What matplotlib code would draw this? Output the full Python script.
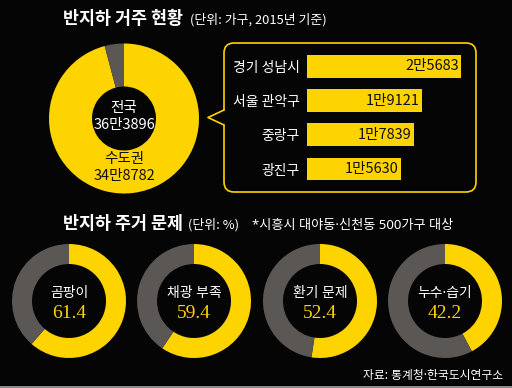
import matplotlib
matplotlib.use("Agg")
import matplotlib.pyplot as plt
from matplotlib.patches import FancyBboxPatch, Rectangle
from matplotlib.lines import Line2D

plt.rcParams['font.family'] = ['Noto Sans CJK KR', 'DejaVu Sans']
MIX = ['Noto Sans', 'Noto Sans CJK KR', 'DejaVu Sans']  # narrow middle dot

# ---------------- data ----------------
title_top = "반지하 거주 현황"
sub_top = "(단위: 가구, 2015년 기준)"
total_label = "전국"
total_value = 363896
capital_label = "수도권"
capital_value = 348782
total_text = "36만3896"
capital_text = "34만8782"

regions = ["경기 성남시", "서울 관악구", "중랑구", "광진구"]
region_values = [25683, 19121, 17839, 15630]
region_texts = ["2만5683", "1만9121", "1만7839", "1만5630"]

title_bottom = "반지하 주거 문제"
sub_bottom = "(단위: %)"
note_bottom = "*시흥시 대야동·신천동 500가구 대상"
problems = ["곰팡이", "채광 부족", "환기 문제", "누수·습기"]
problem_values = [61.4, 59.4, 52.4, 42.2]
source = "자료: 통계청·한국도시연구소"

YEL = "#fdd300"
GRY = "#5b5755"
BG = "#050505"

W, H = 512, 388
fig = plt.figure(figsize=(W / 100, H / 100), dpi=100, facecolor=BG)
ax = fig.add_axes([0, 0, 1, 1])
ax.set_facecolor(BG)

def Y(py):
    return H - py

# ---- big donut ----
cx, cy, R = 124, 118.5, 75
ax.pie([capital_value, total_value - capital_value], colors=[YEL, GRY],
       startangle=90, counterclock=False, center=(cx, Y(cy)), radius=R,
       wedgeprops=dict(width=R - 32, linewidth=0))
ax.text(cx, Y(108), total_label, color="white", fontsize=10.5, ha="center", va="center")
ax.text(cx, Y(125), total_text, color="white", fontsize=10.5, ha="center", va="center")
ax.text(cx, Y(159), capital_label, color="#111111", fontsize=10.5, ha="center", va="center")
ax.text(cx, Y(176), capital_text, color="#111111", fontsize=10.5, ha="center", va="center")

# ---- small donuts ----
centers = [69, 194, 320, 445]
for c, lab, v in zip(centers, problems, problem_values):
    ax.pie([v, 100 - v], colors=[YEL, GRY], startangle=90, counterclock=False,
           center=(c, Y(301)), radius=57, wedgeprops=dict(width=20, linewidth=0))
    ax.text(c, Y(294), lab, color="white", fontsize=10, ha="center", va="center",
            family=MIX)
    ax.text(c, Y(313), f"{v:.1f}", color=YEL, fontsize=14, ha="center", va="center",
            family="Liberation Serif")

# ---- callout box ----
box = FancyBboxPatch((224, Y(192)), 252, 149, boxstyle="round,pad=0,rounding_size=10",
                     fill=False, edgecolor=YEL, linewidth=1.2)
ax.add_patch(box)
ax.add_patch(Rectangle((222, Y(125)), 4, 15, facecolor=BG, edgecolor="none", zorder=3))
ax.add_line(Line2D([224, 208, 224], [Y(110), Y(117.5), Y(125)], color=YEL,
                   linewidth=1.2, zorder=4))

# ---- titles ----
ax.text(63, Y(19), title_top, color="white", fontsize=12.5, fontweight="bold",
        ha="left", va="center")
ax.text(190, Y(20), sub_top, color="white", fontsize=9.3, ha="left", va="center")
ax.text(63, Y(224), title_bottom, color="white", fontsize=12.5, fontweight="bold",
        ha="left", va="center")
ax.text(188, Y(225), sub_bottom, color="white", fontsize=9.3, ha="left", va="center")
ax.text(252, Y(225), note_bottom, color="white", fontsize=9.5, ha="left", va="center",
        family=MIX)
ax.text(503, Y(375), source, color="white", fontsize=8.5, ha="right", va="center",
        family=MIX)

# bottom gray strip
ax.add_patch(Rectangle((0, 0), W, 2.5, facecolor="#8a8a8a", edgecolor="none"))

ax.set_xlim(0, W)
ax.set_ylim(0, H)
ax.set_aspect("auto")
ax.axis("off")

# ---- bar chart ----
top, bot = 49.4, 186.1
bx = fig.add_axes([307 / W, (H - bot) / H, 180 / W, (bot - top) / H])
bx.set_facecolor("none")
ypos = list(range(len(regions)))
bx.barh(ypos, region_values, height=0.67, color=YEL)
bx.set_xlim(0, 30000)
bx.set_ylim(len(regions) - 0.5, -0.5)
bx.set_yticks(ypos)
bx.set_yticklabels(regions, color="white", fontsize=10)
bx.tick_params(axis="y", length=0, pad=5)
bx.set_xticks([])
for s in bx.spines.values():
    s.set_visible(False)
for i, (v, t) in enumerate(zip(region_values, region_texts)):
    bx.annotate(t, (v, i), xytext=(-1.5, 0), textcoords="offset points",
                ha="right", va="center", color="#111111", fontsize=10.5)

fig.savefig("out.png", dpi=100, facecolor=BG)
